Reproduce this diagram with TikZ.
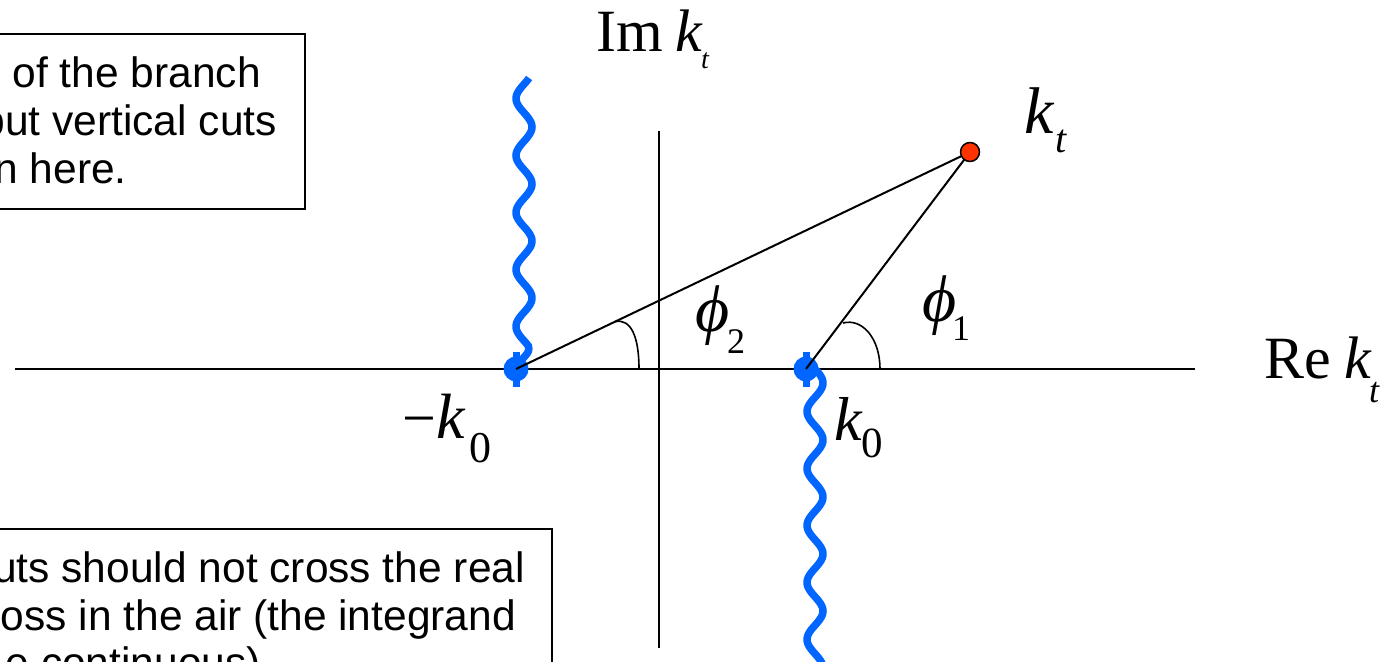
\documentclass[tikz,border=0pt]{standalone}
\usepackage{fontspec}
\setmainfont{Liberation Sans}
\newfontfamily\tms{Liberation Serif}
\newcommand\fsz[1]{\fontsize{#1}{#1}\selectfont}
\definecolor{bcol}{RGB}{0,102,255}
\definecolor{rcol}{RGB}{255,51,0}
\begin{document}
\begin{tikzpicture}[x=1pt,y=-1pt,
  axis/.style={line width=2pt,black},
  tri/.style={line width=2pt,black},
  arcl/.style={line width=1.6pt,black},
  wave/.style={line width=7.5pt,color=bcol},
  bdot/.style={circle,fill=bcol,minimum size=25pt,inner sep=0pt},
  rdot/.style={circle,fill=rcol,draw=black,line width=1.5pt,minimum size=19pt,inner sep=0pt},
  lab/.style={inner sep=0pt,anchor=base west},
  tline/.style={inner sep=0pt,anchor=base east,font=\fsz{42.5}},
  boxl/.style={line width=1.5pt,black}]
\clip (0,0) rectangle (1396,661);
\fill[white] (0,0) rectangle (1396,661);
% key points
\coordinate (mk0) at (516,369);
\coordinate (k0) at (806,369);
\coordinate (kt) at (970,152);
\coordinate (xl) at (15,369);
\coordinate (xr) at (1195,369);
\coordinate (yt) at (659,131);
\coordinate (yb) at (659,648);
% axes
\draw[axis] (xl) -- (xr);
\draw[axis] (yt) -- (yb);
% branch cuts
\draw[wave] plot[variable=\t,domain=78:346,samples=160,smooth] ({524+8*cos(6.31579*(\t-127))},{\t})
  .. controls (531,354) and (522,356) .. (mk0);
\draw[wave] (k0) -- plot[variable=\t,domain=371:672,samples=160,smooth] ({815+8*cos(6.31579*(\t-383))},{\t});
% branch points
\node[bdot] (mk0dot) at (mk0) {};
\node[bdot] (k0dot) at (k0) {};
\fill[bcol] (512.5,352) rectangle (519.5,387);
\fill[bcol] (802.5,352) rectangle (809.5,387);
% triangle
\draw[tri] (mk0) -- (kt);
\draw[tri] (k0) -- (kt);
% angle arcs
\draw[arcl] (615,321.7) .. controls (631,318) and (639,337) .. (639,369);
\draw[arcl] (843,323) .. controls (862,318) and (880,338) .. (880,369);
% point k_t
\node[rdot] (ktdot) at (kt) {};
% labels
\node[lab] (im) at (596,52) {\tms\fsz{60}Im};
\node[lab] (imk) at (675,52) {\tms\itshape\fsz{60}k};
\node[lab] (imt) at (701,68) {\tms\itshape\fsz{28}t};
\node[lab] (re) at (1264,378) {\tms\fsz{60}Re};
\node[lab] (rek) at (1344,378) {\tms\itshape\fsz{60}k};
\node[lab] (ret) at (1369,402) {\tms\itshape\fsz{36}t};
\node[lab] (ktk) at (1024,133) {\tms\itshape\fsz{66}k};
\node[lab] (ktt) at (1055,152) {\tms\itshape\fsz{40}t};
\node[lab] (mkm) at (402,438) {\tms\fsz{60}\symbol{"2212}};
\node[lab] (mkk) at (436,438) {\tms\itshape\fsz{64}k};
\node[lab] (mk0s) at (469,462) {\tms\fsz{44}0};
\node[lab] (kk) at (834,440) {\tms\itshape\fsz{62}k};
\node[lab] (k0s) at (861,457) {\tms\fsz{43}0};
\node[lab] (ph2) at (695,331) {\tms\itshape\fsz{66}\symbol{"03D5}};
\node[lab] (ph2s) at (727,353) {\tms\fsz{36}2};
\node[lab] (ph1) at (922,321) {\tms\itshape\fsz{66}\symbol{"03D5}};
\node[lab] (ph1s) at (952,340) {\tms\fsz{36}1};
% text boxes
\draw[boxl] (-5,34) rectangle (305,209);
\node[tline] (t1) at (261,87) {of the branch};
\node[tline] (t2) at (277,135) {but vertical cuts};
\node[tline] (t3) at (127,183) {n here.};
\draw[boxl] (-5,529) rectangle (552,700);
\node[tline] (u1) at (525,582) {uts should not cross the real};
\node[tline] (u2) at (516,630) {oss in the air (the integrand};
\node[tline] (u3) at (261,677) {e continuous)};
\end{tikzpicture}
\end{document}
